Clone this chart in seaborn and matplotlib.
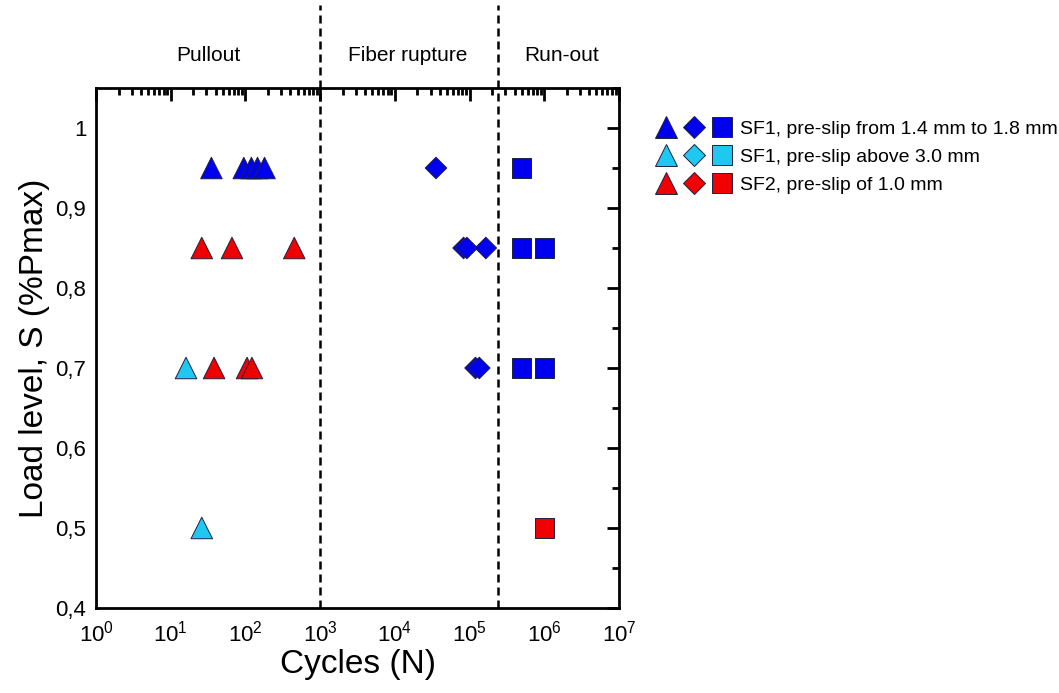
import numpy as np
import pandas as pd
import matplotlib
matplotlib.use("Agg")
import matplotlib.pyplot as plt
from matplotlib.lines import Line2D
from matplotlib.legend_handler import HandlerTuple
from matplotlib.ticker import LogLocator, FixedLocator, MultipleLocator, FuncFormatter
import seaborn as sns

sns.set_theme(style="white")
plt.rcParams['font.family'] = ['Liberation Sans', 'DejaVu Sans']
plt.rcParams['mathtext.fontset'] = 'custom'
plt.rcParams['mathtext.rm'] = 'Liberation Sans'
plt.rcParams['mathtext.it'] = 'Liberation Sans:italic'
plt.rcParams['mathtext.bf'] = 'Liberation Sans:bold'
for key in ['text.color', 'axes.labelcolor', 'xtick.color', 'ytick.color']:
    plt.rcParams[key] = 'black'

# data
cycles = [35, 95, 120, 145, 180,
          26, 66, 450,
          16, 38, 105, 122,
          26,
          35500, 83000, 92000, 165000, 120000, 135000,
          5e5, 5e5, 1e6, 5e5, 1e6, 1e6]
load = [0.95, 0.95, 0.95, 0.95, 0.95,
        0.85, 0.85, 0.85,
        0.70, 0.70, 0.70, 0.70,
        0.50,
        0.95, 0.85, 0.85, 0.85, 0.70, 0.70,
        0.95, 0.85, 0.85, 0.70, 0.70, 0.50]
group = ["SF1a", "SF1a", "SF1a", "SF1a", "SF1a",
         "SF2", "SF2", "SF2",
         "SF1b", "SF2", "SF2", "SF2",
         "SF1b",
         "SF1a", "SF1a", "SF1a", "SF1a", "SF1a", "SF1a",
         "SF1a", "SF1a", "SF1a", "SF1a", "SF1a", "SF2"]
failure = ["Pullout"] * 13 + ["Fiber rupture"] * 6 + ["Run-out"] * 6

group_names = ["SF1a", "SF1b", "SF2"]
legend_labels = ["SF1, pre-slip from 1.4 mm to 1.8 mm",
                 "SF1, pre-slip above 3.0 mm",
                 "SF2, pre-slip of 1.0 mm"]
region_names = ["Pullout", "Fiber rupture", "Run-out"]
region_label_x = [31.6, 1.5e4, 1.7e6]
region_limits = [1e3, 2.4e5]

df = pd.DataFrame({"cycles": cycles, "load": load, "group": group, "failure": failure})

palette = {"SF1a": "#0000F0", "SF1b": "#1EC8F0", "SF2": "#F00000"}
markers = {"Pullout": "^", "Fiber rupture": "D", "Run-out": "s"}
sizes = {"Pullout": 240, "Fiber rupture": 120, "Run-out": 190}

fig = plt.figure(figsize=(10.59, 6.93), dpi=100)
ax = fig.add_axes([0.0907, 0.1227, 0.4938, 0.7503])

for f in region_names:
    sub = df[df["failure"] == f]
    sns.scatterplot(data=sub, x="cycles", y="load", hue="group", palette=palette,
                    marker=markers[f], s=sizes[f], edgecolor="#202040", linewidth=0.7,
                    legend=False, ax=ax, zorder=3)

ax.set_xscale("log")
ax.set_xlim(1, 1e7)
ax.set_ylim(0.4, 1.05)

for xv in region_limits:
    ax.axvline(xv, ymin=0, ymax=1.16, color="black", linestyle=(0, (3.2, 2)),
               linewidth=1.8, clip_on=False, zorder=2)

for name, xv in zip(region_names, region_label_x):
    ax.text(xv, 1.063, name, transform=ax.get_xaxis_transform(),
            ha="center", va="center", fontsize=15)

ax.xaxis.set_major_locator(LogLocator(base=10, numticks=10))
ax.xaxis.set_minor_locator(LogLocator(base=10, subs=np.arange(2, 10), numticks=100))
ax.yaxis.set_major_locator(FixedLocator([0.4, 0.5, 0.6, 0.7, 0.8, 0.9, 1.0]))
ax.yaxis.set_minor_locator(MultipleLocator(0.05))
ax.yaxis.set_major_formatter(FuncFormatter(lambda v, p: f"{v:g}".replace(".", ",")))

ax.tick_params(which="both", direction="in", top=True, right=True, width=2)
ax.tick_params(which="major", length=9, labelsize=16, pad=7)
ax.tick_params(axis="x", which="major", pad=9)
ax.tick_params(which="minor", length=5)
for sp in ax.spines.values():
    sp.set_linewidth(2)
    sp.set_color("black")

ax.set_xlabel("Cycles (N)", fontsize=24, labelpad=2)
ax.set_ylabel("Load level, S (%Pmax)", fontsize=24, labelpad=4)

handles = []
for g in group_names:
    handles.append(tuple(
        Line2D([], [], linestyle="none", marker=m, markersize=ms, markerfacecolor=palette[g],
               markeredgecolor="#202040", markeredgewidth=0.7)
        for m, ms in [("^", 16), ("D", 11), ("s", 15)]))
fig.legend(handles, legend_labels, handler_map={tuple: HandlerTuple(ndivide=None, pad=0.41)},
           loc="upper left", bbox_to_anchor=(0.6195, 0.826), frameon=False,
           fontsize=14, handlelength=3.92, handletextpad=0.41, labelspacing=0.52,
           borderaxespad=0, borderpad=0)

fig.savefig("out.png", dpi=100)
